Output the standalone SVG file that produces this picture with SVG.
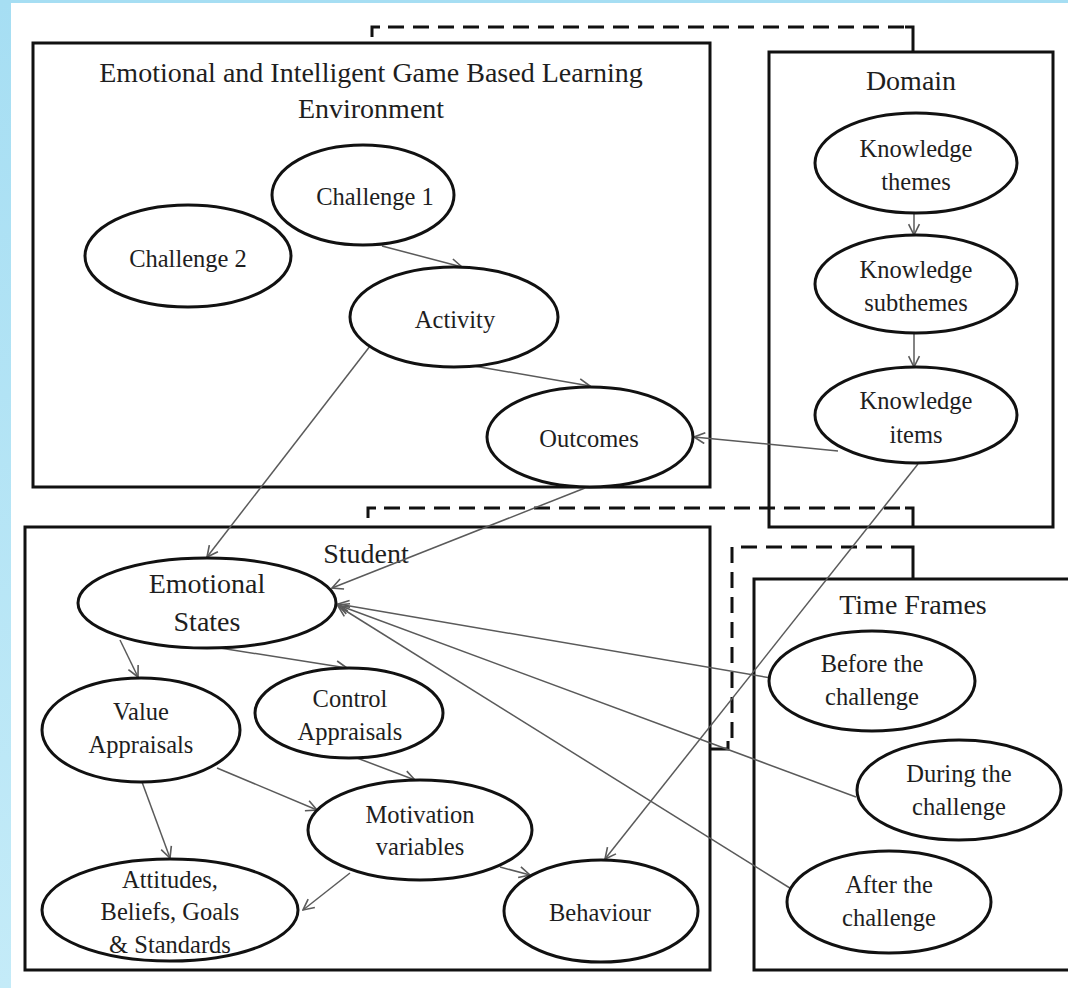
<svg xmlns="http://www.w3.org/2000/svg" width="1068" height="988" viewBox="0 0 1068 988">
<style>
  .box { fill: none; stroke: #111; stroke-width: 3; }
  .node { fill: #fff; stroke: #111; stroke-width: 3; }
  .t { font-family: "Liberation Serif", "Times New Roman", serif; font-size: 24.5px; fill: #1e1e1e; text-anchor: middle; }
  .h { font-size: 28px; }
  .dash { fill: none; stroke: #111; stroke-width: 3; stroke-dasharray: 16 9; }
  .solid { fill: none; stroke: #111; stroke-width: 3; }
  .c { fill: none; stroke: #5a5a5a; stroke-width: 1.5; marker-end: url(#arr); }
</style>
<defs>
  <linearGradient id="bg" x1="0" y1="0" x2="0" y2="1">
    <stop offset="0" stop-color="#a6def3"/>
    <stop offset="1" stop-color="#c4ebf8"/>
  </linearGradient>
  <marker id="arr" markerUnits="userSpaceOnUse" markerWidth="13" markerHeight="13" viewBox="0 0 12 12" refX="11" refY="6" orient="auto">
    <path d="M1,1 L11,6 L1,11" fill="none" stroke="#5a5a5a" stroke-width="1.5"/>
  </marker>
</defs>
<rect x="0" y="0" width="1068" height="988" fill="url(#bg)"/>
<rect x="11" y="3" width="1057" height="985" fill="#fff"/>

<g id="frames">
  <g id="env-box">
    <rect class="box" x="33" y="43" width="677" height="444"/>
    <text class="t h" x="371" y="82">Emotional and Intelligent Game Based Learning</text>
    <text class="t h" x="371" y="118">Environment</text>
  </g>
  <g id="domain-box">
    <rect class="box" x="769" y="52" width="284" height="475"/>
    <text class="t h" x="911" y="90">Domain</text>
  </g>
  <g id="student-box">
    <rect class="box" x="25" y="527" width="685" height="443"/>
    <text class="t h" x="366" y="563">Student</text>
  </g>
  <g id="time-box">
    <rect class="box" x="754" y="579" width="330" height="391"/>
    <text class="t h" x="913" y="614">Time Frames</text>
  </g>
</g>

<g id="links">
  <path class="solid" d="M372,37 V27 H380"/>
  <path class="dash" d="M388,27 H905"/>
  <path class="solid" d="M905,27 H913 V52"/>
  <path class="solid" d="M368,518 V508 H376"/>
  <path class="dash" d="M384,508 H905"/>
  <path class="solid" d="M905,508 H913 V527"/>
  <path class="solid" d="M710,749 H728 V741"/>
  <path class="dash" d="M732,738 V547 H905"/>
  <path class="solid" d="M905,547 H913 V579"/>
</g>

<g id="connectors">
  <path class="c" d="M382,246 L462,267"/>
  <path class="c" d="M474,366 L590,386"/>
  <path class="c" d="M384,328 L207,557"/>
  <path class="c" d="M585,488 L332,588"/>
  <path class="c" d="M838,451 L694,437"/>
  <path class="c" d="M914,213 L914,235"/>
  <path class="c" d="M914,334 L914,367"/>
  <path class="c" d="M918,464 L605,859"/>
  <path class="c" d="M771,678 L338,604"/>
  <path class="c" d="M856,797 L338,605"/>
  <path class="c" d="M793,890 L338,606"/>
  <path class="c" d="M120,640 L138,677"/>
  <path class="c" d="M220,648 L347,668"/>
  <path class="c" d="M142,782 L170,858"/>
  <path class="c" d="M217,768 L317,810"/>
  <path class="c" d="M357,758 L415,780"/>
  <path class="c" d="M350,873 L303,910"/>
  <path class="c" d="M500,867 L530,875"/>
</g>

<g id="challenge2"><ellipse class="node" cx="188" cy="256" rx="103" ry="51"/><text class="t" x="188" y="267">Challenge 2</text></g>
<g id="challenge1"><ellipse class="node" cx="363" cy="195" rx="91" ry="50"/><text class="t" x="375" y="205">Challenge 1</text></g>
<g id="activity"><ellipse class="node" cx="454" cy="317" rx="104" ry="50"/><text class="t" x="455" y="328">Activity</text></g>
<g id="outcomes"><ellipse class="node" cx="590" cy="437" rx="103" ry="50"/><text class="t" x="589" y="447">Outcomes</text></g>

<g id="k-themes"><ellipse class="node" cx="916" cy="163" rx="101" ry="50"/><text class="t" x="916" y="157">Knowledge</text><text class="t" x="916" y="190">themes</text></g>
<g id="k-subthemes"><ellipse class="node" cx="916" cy="284" rx="101" ry="49"/><text class="t" x="916" y="278">Knowledge</text><text class="t" x="916" y="311">subthemes</text></g>
<g id="k-items"><ellipse class="node" cx="916" cy="415" rx="101" ry="48"/><text class="t" x="916" y="409">Knowledge</text><text class="t" x="916" y="443">items</text></g>

<g id="emotional-states"><ellipse class="node" cx="207" cy="603" rx="129" ry="45"/><text class="t h" x="207" y="593">Emotional</text><text class="t h" x="207" y="631">States</text></g>
<g id="value-appraisals"><ellipse class="node" cx="141" cy="730" rx="99" ry="52"/><text class="t" x="141" y="720">Value</text><text class="t" x="141" y="753">Appraisals</text></g>
<g id="control-appraisals"><ellipse class="node" cx="349" cy="713" rx="94" ry="45"/><text class="t" x="350" y="707">Control</text><text class="t" x="350" y="740">Appraisals</text></g>
<g id="motivation"><ellipse class="node" cx="420" cy="830" rx="112" ry="50"/><text class="t" x="420" y="823">Motivation</text><text class="t" x="420" y="855">variables</text></g>
<g id="attitudes"><ellipse class="node" cx="170" cy="910" rx="128" ry="51"/><text class="t" x="170" y="888">Attitudes,</text><text class="t" x="170" y="920">Beliefs, Goals</text><text class="t" x="170" y="953">&amp; Standards</text></g>
<g id="behaviour"><ellipse class="node" cx="601" cy="911" rx="97" ry="51"/><text class="t" x="600" y="921">Behaviour</text></g>

<g id="before"><ellipse class="node" cx="872" cy="681" rx="103" ry="50"/><text class="t" x="872" y="672">Before the</text><text class="t" x="872" y="705">challenge</text></g>
<g id="during"><ellipse class="node" cx="959" cy="790" rx="102" ry="50"/><text class="t" x="959" y="782">During the</text><text class="t" x="959" y="815">challenge</text></g>
<g id="after"><ellipse class="node" cx="889" cy="902" rx="102" ry="51"/><text class="t" x="889" y="893">After the</text><text class="t" x="889" y="926">challenge</text></g>
</svg>
